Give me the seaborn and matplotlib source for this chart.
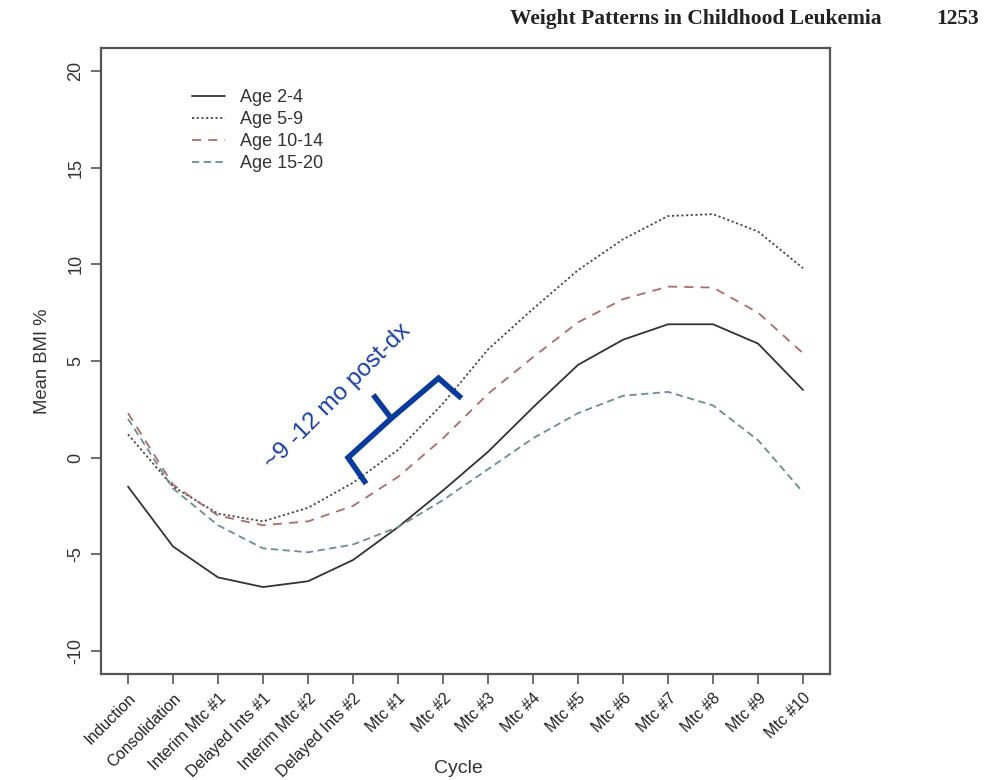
import numpy as np
import pandas as pd
import matplotlib
matplotlib.use("Agg")
import matplotlib.pyplot as plt
import matplotlib.transforms as mtransforms
import seaborn as sns

# ── Data ────────────────────────────────────────────────────────────────────

cycles = ['Induction', 'Consolidation', 'Interim Mtc #1', 'Delayed Ints #1',
          'Interim Mtc #2', 'Delayed Ints #2', 'Mtc #1', 'Mtc #2', 'Mtc #3',
          'Mtc #4', 'Mtc #5', 'Mtc #6', 'Mtc #7', 'Mtc #8', 'Mtc #9', 'Mtc #10']

age_2_4 = [-1.5, -4.6, -6.2, -6.7, -6.4, -5.3, -3.6, -1.7, 0.3,
           2.6, 4.8, 6.1, 6.9, 6.9, 5.9, 3.5]
age_5_9 = [1.2, -1.5, -2.9, -3.3, -2.6, -1.3, 0.4, 2.8, 5.6,
           7.7, 9.7, 11.3, 12.5, 12.6, 11.7, 9.8]
age_10_14 = [2.3, -1.4, -3.0, -3.5, -3.3, -2.5, -1.0, 1.0, 3.3,
             5.2, 7.0, 8.2, 8.85, 8.8, 7.5, 5.4]
age_15_20 = [2.0, -1.6, -3.5, -4.7, -4.9, -4.5, -3.6, -2.2, -0.6,
             1.0, 2.3, 3.2, 3.4, 2.7, 0.9, -1.8]

groups = ['Age 2-4', 'Age 5-9', 'Age 10-14', 'Age 15-20']
y_ticks = [-10, -5, 0, 5, 10, 15, 20]

# bracket for the annotation, in (cycle index, BMI %) units
brace_x = [5.29, 4.89, 5.85, 6.90, 7.41]
brace_y = [-1.35, 0.0, 2.03, 4.11, 3.07]
brace_tip_x = [5.85, 5.45]
brace_tip_y = [2.03, 3.25]

# ── Styles ──────────────────────────────────────────────────────────────────

palette = {'Age 2-4': '#333333', 'Age 5-9': '#484848',
           'Age 10-14': '#a86e6e', 'Age 15-20': '#6b8e8e'}
dashes = {'Age 2-4': '', 'Age 5-9': (1.2, 1.4),
          'Age 10-14': (5, 4), 'Age 15-20': (4, 2.5)}

sns.set_style('ticks')
plt.rcParams['font.family'] = ['Liberation Sans', 'DejaVu Sans']

df = pd.DataFrame({
    'idx': np.tile(np.arange(len(cycles)), len(groups)),
    'bmi': age_2_4 + age_5_9 + age_10_14 + age_15_20,
    'group': np.repeat(groups, len(cycles)),
})

fig = plt.figure(figsize=(9.96, 7.8), dpi=100)
ax = fig.add_axes([0.1014, 0.1359, 0.732, 0.8026])

sns.lineplot(data=df, x='idx', y='bmi', hue='group', style='group',
             palette=palette, dashes=dashes, linewidth=1.3,
             sort=False, legend=False, ax=ax)

ax.set_xlim(-0.6, len(cycles) - 1 + 0.6)
ax.set_ylim(-11.2, 21.2)
ax.set_xticks(np.arange(len(cycles)))
ax.set_xticklabels(cycles, rotation=45, ha='right', va='top',
                   rotation_mode='anchor', fontsize=11.5, color='#222222')
shift = mtransforms.ScaledTranslation(9 / 100, 0, fig.dpi_scale_trans)
for lab in ax.get_xticklabels():
    lab.set_transform(lab.get_transform() + shift)
ax.set_yticks(y_ticks)
ax.set_yticklabels([str(v) for v in y_ticks], rotation=90, va='center',
                   fontsize=13, color='#333333')
ax.tick_params(axis='both', direction='out', length=7, width=1.2,
               color='#555555')
ax.tick_params(axis='x', pad=5)
ax.tick_params(axis='y', pad=5)
for sp in ax.spines.values():
    sp.set_visible(True)
    sp.set_color('#555555')
    sp.set_linewidth(1.6)

ax.set_xlabel('Cycle', fontsize=14, color='#333333')
ax.xaxis.set_label_coords(0.49, -0.138)
ax.set_ylabel('Mean BMI %', fontsize=13.3, color='#333333', labelpad=12)

# legend (no frame, R style)
handles = [plt.Line2D([], [], color=palette[g], linewidth=1.3,
                      dashes=dashes[g] if dashes[g] else (None, None))
           for g in groups]
ax.legend(handles, groups, loc='upper left', bbox_to_anchor=(0.103, 0.96),
          frameon=False, fontsize=13, handlelength=1.8, handletextpad=0.85,
          labelspacing=0.27, labelcolor='#333333')

# annotation
ax.plot(brace_x, brace_y, color='#0a3a9c', linewidth=4,
        solid_joinstyle='miter', solid_capstyle='butt')
ax.plot(brace_tip_x, brace_tip_y, color='#0a3a9c', linewidth=4,
        solid_capstyle='butt')
ax.text(4.66, 3.15, '~9 -12 mo post-dx', rotation=45, fontsize=17.5,
        color='#1a3f9f', ha='center', va='center', rotation_mode='anchor')

# page header
fig.text(0.512, 0.976, 'Weight Patterns in Childhood Leukemia',
         family='Liberation Serif', weight='bold', fontsize=15.5,
         color='#222222', va='center')
fig.text(0.94, 0.976, '1253', family='Liberation Serif', weight='bold',
         fontsize=15.5, color='#222222', va='center')

fig.savefig('out.png', dpi=100)
